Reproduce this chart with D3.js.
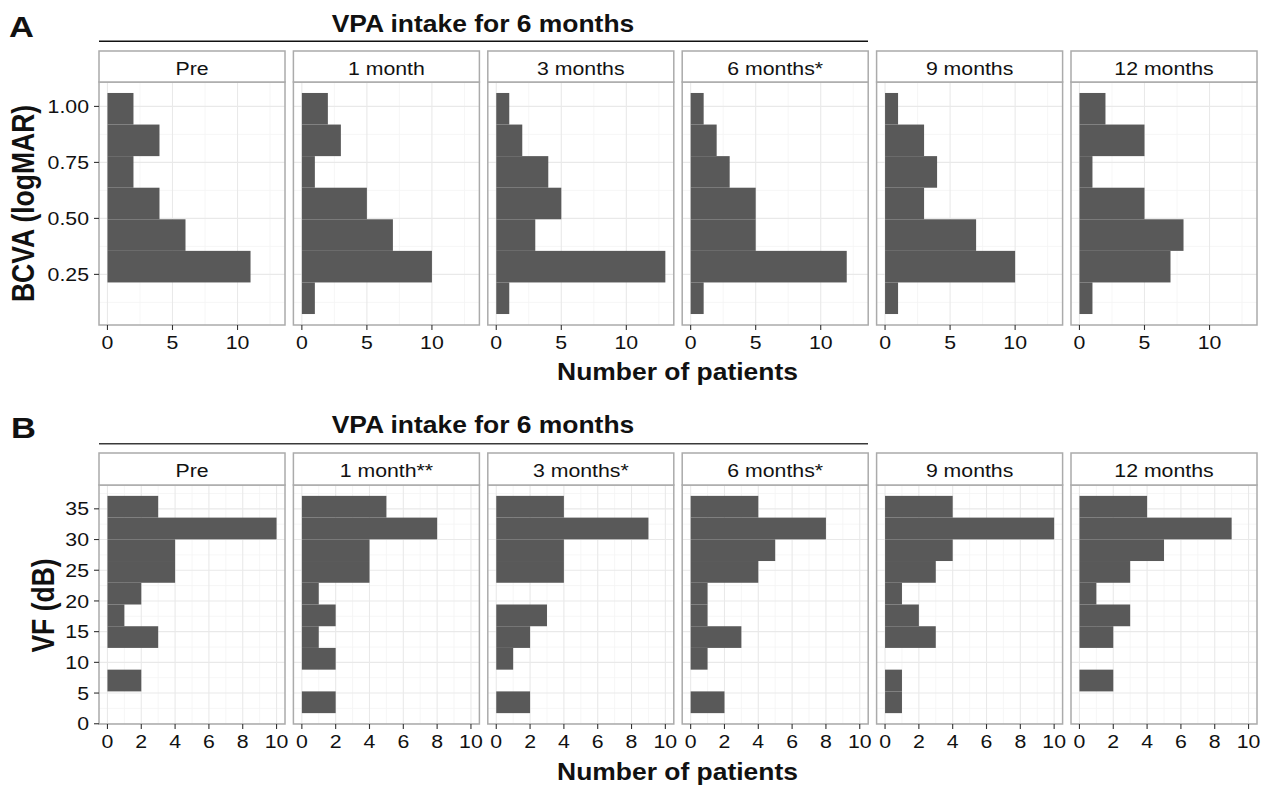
<!DOCTYPE html>
<html>
<head>
<meta charset="utf-8">
<script src="https://cdn.jsdelivr.net/npm/d3@7"></script>
<style>
  html, body { margin: 0; padding: 0; background: #fff; }
  svg { display: block; }
  text { font-family: "Liberation Sans", Arial, Helvetica, sans-serif; fill: #111; }
</style>
</head>
<body>
<svg id="chart" width="1269" height="785"></svg>
<script>
// ---------------- DATA ----------------
const facetKeys = ["Pre", "1 month", "3 months", "6 months", "9 months", "12 months"];
const stripLabelsA = ["Pre", "1 month", "3 months", "6 months*", "9 months", "12 months"];
const stripLabelsB = ["Pre", "1 month**", "3 months*", "6 months*", "9 months", "12 months"];

// Panel A: BCVA (logMAR) histogram, bin edges and counts per facet (bottom bin first)
const bcvaBinEdges = [0.073, 0.214, 0.355, 0.496, 0.637, 0.778, 0.919, 1.060];
const bcvaPre      = [0, 11, 6, 4, 2, 4, 2];
const bcva1Month   = [1, 10, 7, 5, 1, 3, 2];
const bcva3Months  = [1, 13, 3, 5, 4, 2, 1];
const bcva6Months  = [1, 12, 5, 5, 3, 2, 1];
const bcva9Months  = [1, 10, 7, 3, 4, 3, 1];
const bcva12Months = [1, 7, 8, 5, 1, 5, 2];

// Panel B: VF (dB) histogram, bin edges and counts per facet (bottom bin first)
const vfBinEdges = [1.73, 5.27, 8.81, 12.35, 15.88, 19.42, 22.96, 26.50, 30.03, 33.57, 37.11];
const vfPre      = [0, 2, 0, 3, 1, 2, 4, 4, 10, 3];
const vf1Month   = [2, 0, 2, 1, 2, 1, 4, 4, 8, 5];
const vf3Months  = [2, 0, 1, 2, 3, 0, 4, 4, 9, 4];
const vf6Months  = [2, 0, 1, 3, 1, 1, 4, 5, 8, 4];
const vf9Months  = [1, 1, 0, 3, 2, 1, 3, 4, 10, 4];
const vf12Months = [0, 2, 0, 2, 3, 1, 3, 5, 9, 4];

// Axis ticks
const bcvaXTicks = [0, 5, 10];
const bcvaXMinor = [2.5, 7.5, 12.5];
const bcvaYTicks = [0.25, 0.50, 0.75, 1.00];
const bcvaYMinor = [0.125, 0.375, 0.625, 0.875];
const vfXTicks = [0, 2, 4, 6, 8, 10];
const vfXMinor = [1, 3, 5, 7, 9];
const vfYTicks = [0, 5, 10, 15, 20, 25, 30, 35];
const vfYMinor = [2.5, 7.5, 12.5, 17.5, 22.5, 27.5, 32.5, 37.5];

// Titles
const headerText = "VPA intake for 6 months";
const xTitle = "Number of patients";
const yTitleA = "BCVA (logMAR)";
const yTitleB = "VF (dB)";

// ---------------- LAYOUT ----------------
const svg = d3.select("#chart");
const STRETCH = 1.15;          // horizontal glyph stretch seen in the reference
const panelLeft = 99, panelW = 186, panelStep = 194.4;
const bar = "#595959", border = "#ababab", gridMajor = "#e9e9e9", gridMinor = "#f4f4f4";

function txt(g, x, y, s, opts) {
  opts = opts || {};
  const t = g.append("text")
    .attr("transform", `translate(${x},${y}) scale(${STRETCH},1)` + (opts.rotate ? ` rotate(${opts.rotate})` : ""))
    .attr("text-anchor", opts.anchor || "middle")
    .style("font-size", (opts.size || 18.5) + "px")
    .style("font-weight", opts.bold ? "bold" : "normal")
    .text(s);
  return t;
}

function drawRow(cfg) {
  const g = svg.append("g");
  const y = d3.scaleLinear().domain(cfg.yDomain).range([cfg.plotBottom, cfg.plotTop]);

  cfg.counts.forEach((counts, i) => {
    const x0 = panelLeft + i * panelStep;
    const x = d3.scaleLinear().domain(cfg.xDomain).range([x0, x0 + panelW]);
    const pg = g.append("g");

    pg.append("rect").attr("x", x0).attr("y", cfg.plotTop).attr("width", panelW)
      .attr("height", cfg.plotBottom - cfg.plotTop).attr("fill", "#fff");

    pg.selectAll(null).data(cfg.xMinor).join("line")
      .attr("x1", d => x(d)).attr("x2", d => x(d)).attr("y1", cfg.plotTop).attr("y2", cfg.plotBottom)
      .attr("stroke", gridMinor).attr("stroke-width", 0.8);
    pg.selectAll(null).data(cfg.yMinor.filter(v => v > cfg.yDomain[0] && v < cfg.yDomain[1])).join("line")
      .attr("y1", d => y(d)).attr("y2", d => y(d)).attr("x1", x0).attr("x2", x0 + panelW)
      .attr("stroke", gridMinor).attr("stroke-width", 0.8);
    pg.selectAll(null).data(cfg.xTicks).join("line")
      .attr("x1", d => x(d)).attr("x2", d => x(d)).attr("y1", cfg.plotTop).attr("y2", cfg.plotBottom)
      .attr("stroke", gridMajor).attr("stroke-width", 1.1);
    pg.selectAll(null).data(cfg.yTicks).join("line")
      .attr("y1", d => y(d)).attr("y2", d => y(d)).attr("x1", x0).attr("x2", x0 + panelW)
      .attr("stroke", gridMajor).attr("stroke-width", 1.1);

    const bins = counts.map((c, k) => ({ c, lo: cfg.edges[k], hi: cfg.edges[k + 1] })).filter(b => b.c > 0);
    pg.selectAll(null).data(bins).join("rect")
      .attr("x", x(0)).attr("width", d => x(d.c) - x(0))
      .attr("y", d => y(d.hi)).attr("height", d => y(d.lo) - y(d.hi))
      .attr("fill", bar);

    pg.append("rect").attr("x", x0).attr("y", cfg.plotTop).attr("width", panelW)
      .attr("height", cfg.plotBottom - cfg.plotTop).attr("fill", "none")
      .attr("stroke", border).attr("stroke-width", 1.5);

    pg.append("rect").attr("x", x0).attr("y", cfg.stripTop).attr("width", panelW)
      .attr("height", cfg.plotTop - cfg.stripTop).attr("fill", "#fff")
      .attr("stroke", border).attr("stroke-width", 1.5);
    txt(pg, x0 + panelW / 2, (cfg.stripTop + cfg.plotTop) / 2 + 8.3, cfg.strips[i], { size: 18.5 });

    pg.selectAll(null).data(cfg.xTicks).join("line")
      .attr("x1", d => x(d)).attr("x2", d => x(d)).attr("y1", cfg.plotBottom).attr("y2", cfg.plotBottom + 5)
      .attr("stroke", "#333").attr("stroke-width", 1.1);
    cfg.xTicks.forEach(v => txt(pg, x(v), cfg.plotBottom + 23.5, String(v), { size: 18.5 }));

    if (i === 0) {
      pg.selectAll(null).data(cfg.yTicks).join("line")
        .attr("x1", x0 - 5).attr("x2", x0).attr("y1", d => y(d)).attr("y2", d => y(d))
        .attr("stroke", "#333").attr("stroke-width", 1.1);
      cfg.yTicks.forEach(v => txt(pg, x0 - 10, y(v) + 6.6, cfg.yFmt(v), { size: 18.5, anchor: "end" }));
    }
  });

  txt(g, 483, cfg.headerBaseline, headerText, { size: 23, bold: true });
  g.append("line").attr("x1", panelLeft).attr("x2", 868).attr("y1", cfg.headerLine).attr("y2", cfg.headerLine)
    .attr("stroke", cfg.headerLineColor).attr("stroke-width", 1.4);
  txt(g, cfg.letterX, cfg.letterBaseline, cfg.letter, { size: 30, bold: true, anchor: "start" });
  txt(g, 677.5, cfg.xTitleBaseline, xTitle, { size: 23, bold: true });
  txt(g, cfg.yTitleX, cfg.yTitleY, cfg.yTitle, { size: 26.5, bold: true, rotate: -90 });
}

drawRow({
  counts: [bcvaPre, bcva1Month, bcva3Months, bcva6Months, bcva9Months, bcva12Months],
  edges: bcvaBinEdges,
  strips: stripLabelsA,
  xDomain: [-0.65, 13.65], yDomain: [0.024, 1.109],
  xTicks: bcvaXTicks, xMinor: bcvaXMinor, yTicks: bcvaYTicks, yMinor: bcvaYMinor,
  yFmt: d3.format(".2f"),
  stripTop: 51, plotTop: 82, plotBottom: 325,
  headerBaseline: 31.7, headerLine: 41.3, headerLineColor: "#111",
  letter: "A", letterX: 9, letterBaseline: 36.7,
  xTitleBaseline: 380, yTitle: yTitleA, yTitleX: 33.5, yTitleY: 203.5
});

drawRow({
  counts: [vfPre, vf1Month, vf3Months, vf6Months, vf9Months, vf12Months],
  edges: vfBinEdges,
  strips: stripLabelsB,
  xDomain: [-0.5, 10.5], yDomain: [-0.04, 38.88],
  xTicks: vfXTicks, xMinor: vfXMinor, yTicks: vfYTicks, yMinor: vfYMinor,
  yFmt: d3.format("d"),
  stripTop: 453, plotTop: 485, plotBottom: 724,
  headerBaseline: 433.3, headerLine: 443.7, headerLineColor: "#3a3a3a",
  letter: "B", letterX: 11, letterBaseline: 438.3,
  xTitleBaseline: 780, yTitle: yTitleB, yTitleX: 53.5, yTitleY: 605.5
});
</script>
</body>
</html>
